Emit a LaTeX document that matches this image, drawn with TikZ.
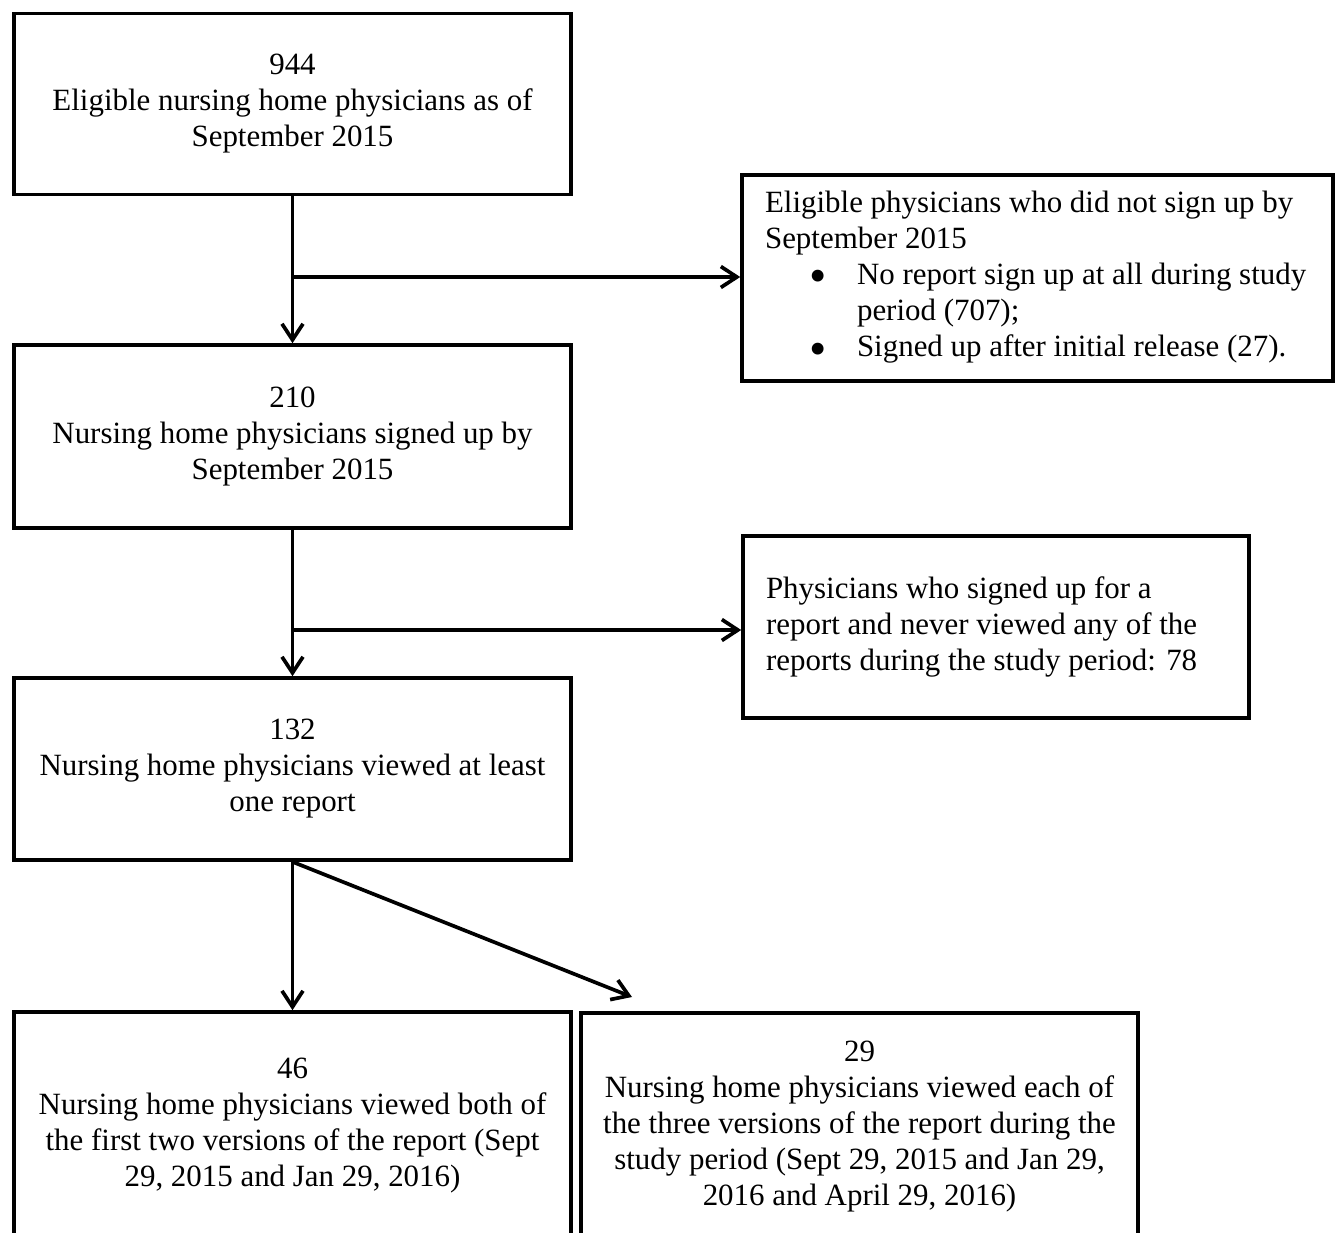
\documentclass[tikz,border=0pt]{standalone}
\usepackage{fontspec}
\setmainfont{Liberation Serif}
\usetikzlibrary{arrows.meta}
\newcommand\bulletmark{\raisebox{-0.17cm}{\scalebox{1.6}{\textbullet}}}
\begin{document}
\begin{tikzpicture}[x=0.02cm,y=-0.02cm,
  box/.style={draw, line width=2.1pt, inner sep=0pt,
    font=\fontsize{17.6}{20.5}\selectfont},
  cbox/.style={box, align=center},
  lbox/.style={box, align=flush left, inner xsep=0.46cm},
  flow/.style={line width=2.1pt, -{Straight Barb[length=0.32cm,width=0.42cm]}},
]
\useasboundingbox (0,0) rectangle (1335,1233);

% main column
\node[cbox, minimum width=11.14cm, minimum height=3.62cm] (n944) at (292.5,104)
  {944\\Eligible nursing home physicians as of\\September 2015};
\node[cbox, minimum width=11.14cm, minimum height=3.66cm] (n210) at (292.5,436.5)
  {210\\Nursing home physicians signed up by\\September 2015};
\node[cbox, minimum width=11.14cm, minimum height=3.64cm] (n132) at (292.5,769)
  {132\\Nursing home physicians viewed at least\\one report};

% exclusion boxes
\node[lbox, minimum width=11.82cm, minimum height=4.12cm, text width=10.9cm] (excl1) at (1037.5,278)
  {Eligible physicians who did not sign up by\\
   September 2015\\
   \hspace*{1.06cm}\makebox[0pt]{\bulletmark}\hspace{0.78cm}No report sign up at all during study\\
   \hspace*{1.84cm}period (707);\\
   \hspace*{1.06cm}\makebox[0pt]{\bulletmark}\hspace{0.78cm}Signed up after initial release (27).};
\node[lbox, minimum width=10.12cm, minimum height=3.64cm, text width=9.2cm] (excl2) at (996,627)
  {Physicians who signed up for a\\
   report and never viewed any of the\\
   reports during the study period: 78};

% outcome boxes
\node[cbox, minimum width=11.14cm, minimum height=4.56cm] (n46) at (292.5,1126)
  {46\\Nursing home physicians viewed both of\\the first two versions of the report (Sept\\29, 2015 and Jan 29, 2016)};
\node[cbox, minimum width=11.14cm, minimum height=4.56cm] (n29) at (859.5,1127)
  {29\\Nursing home physicians viewed each of\\the three versions of the report during the\\study period (Sept 29, 2015 and Jan 29,\\2016 and April 29, 2016)};

% connectors
\coordinate (b1) at (292.5,277);
\coordinate (b2) at (292.5,630);
\coordinate (diagEnd) at (632,997);

\draw[flow] (n944.south) -- (n210.north);
\draw[flow] (b1) -- (excl1.west |- b1);
\draw[flow] (n210.south) -- (n132.north);
\draw[flow] (b2) -- (excl2.west |- b2);
\draw[flow] (n132.south) -- (n46.north);
\draw[flow] (n132.south) -- (diagEnd);
\end{tikzpicture}
\end{document}
